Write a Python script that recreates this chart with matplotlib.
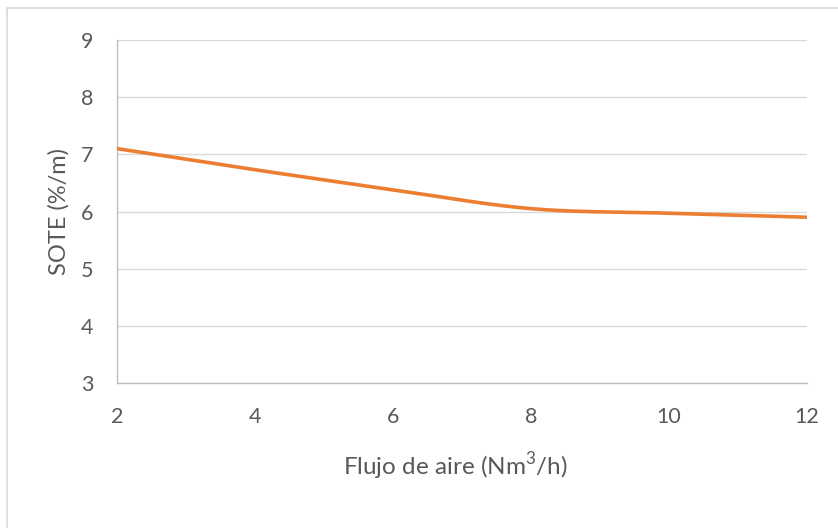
import numpy as np
import matplotlib.pyplot as plt
from matplotlib.patches import Rectangle

# datos
flujo_aire = [2, 4, 6, 8, 10, 12]
sote = [7.10, 6.73, 6.38, 6.05, 5.97, 5.90]

x_ticks = [2, 4, 6, 8, 10, 12]
y_ticks = [3, 4, 5, 6, 7, 8, 9]

plt.rcParams['font.family'] = ['Lato', 'DejaVu Sans']
plt.rcParams['mathtext.fontset'] = 'custom'
plt.rcParams['mathtext.rm'] = 'Lato'
GRIS = '#595959'


def suavizar(xs, ys, n=40):
    # curva tipo Catmull-Rom (linea suavizada estilo Excel)
    xs = np.asarray(xs, float)
    ys = np.asarray(ys, float)
    px = np.concatenate([[2 * xs[0] - xs[1]], xs, [2 * xs[-1] - xs[-2]]])
    py = np.concatenate([[2 * ys[0] - ys[1]], ys, [2 * ys[-1] - ys[-2]]])
    out_x, out_y = [], []
    for i in range(1, len(px) - 2):
        t = np.linspace(0, 1, n)
        for p, out in ((px, out_x), (py, out_y)):
            p0, p1, p2, p3 = p[i - 1], p[i], p[i + 1], p[i + 2]
            out.extend(0.5 * ((2 * p1) + (-p0 + p2) * t
                              + (2 * p0 - 5 * p1 + 4 * p2 - p3) * t ** 2
                              + (-p0 + 3 * p1 - 3 * p2 + p3) * t ** 3))
    return out_x, out_y


fig = plt.figure(figsize=(8.38, 5.28), dpi=100)
ax = fig.add_axes([117 / 838, 1 - 383 / 528, 690 / 838, 343 / 528])

# borde del area del grafico
fig.patches.append(Rectangle((7 / 838, -0.1), 1.2, 1 - 8 / 528 + 0.1,
                             transform=fig.transFigure, fill=False,
                             edgecolor='#d9d9d9', linewidth=1.2))

sx, sy = suavizar(flujo_aire, sote)
ax.plot(sx, sy, color='#ed7d31', linewidth=2.6, solid_capstyle='butt', zorder=3)

ax.set_xlim(2, 12)
ax.set_ylim(3, 9)
ax.set_xticks(x_ticks)
ax.set_yticks(y_ticks)
ax.grid(axis='y', color='#d9d9d9', linewidth=1)
ax.set_axisbelow(True)
for s in ['top', 'right']:
    ax.spines[s].set_visible(False)
for s in ['left', 'bottom']:
    ax.spines[s].set_color('#bfbfbf')
    ax.spines[s].set_linewidth(1)
ax.tick_params(length=0, labelsize=15.5, labelcolor=GRIS)
ax.tick_params(axis='x', pad=17)
ax.tick_params(axis='y', pad=17)

ax.set_xlabel('Flujo de aire (Nm$^3$/h)', fontsize=17.5, color=GRIS, va='top')
ax.xaxis.set_label_coords(0.49, -0.196)
ax.set_ylabel('SOTE (%/m)', fontsize=17, color=GRIS, va='center')
ax.yaxis.set_label_coords(-0.084, 0.5)

fig.savefig('out.png', dpi=100)
